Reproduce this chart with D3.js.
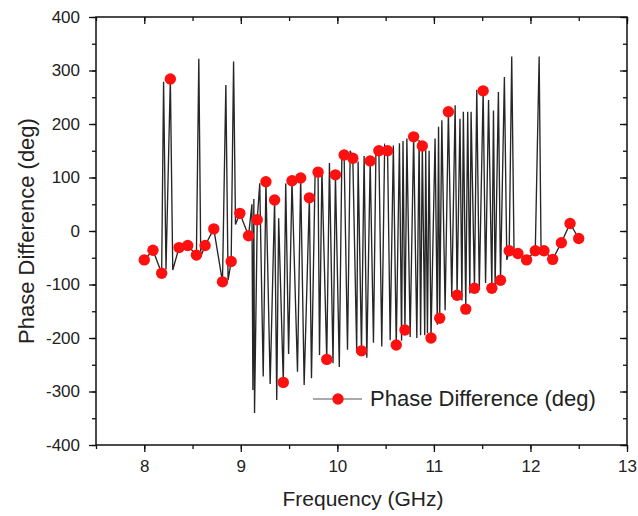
<!DOCTYPE html>
<html>
<head>
<meta charset="utf-8">
<script src="https://cdn.jsdelivr.net/npm/d3@7"></script>
<style>
  body { margin: 0; background: #fff; }
  svg text { font-family: "Liberation Sans", Arial, sans-serif; fill: #222; }
</style>
</head>
<body>
<svg id="chart" width="638" height="516"></svg>
<script>
// markers (every Nth sample of the measurement)
var markerFreq = [8.00, 8.09, 8.18, 8.27, 8.36, 8.45, 8.54, 8.63, 8.72, 8.81,
  8.90, 8.99, 9.08, 9.17, 9.26, 9.35, 9.44, 9.53, 9.62, 9.71,
  9.80, 9.89, 9.98, 10.07, 10.16, 10.25, 10.34, 10.43, 10.52, 10.61,
  10.70, 10.79, 10.88, 10.97, 11.06, 11.15, 11.24, 11.33, 11.42, 11.51,
  11.60, 11.69, 11.78, 11.87, 11.96, 12.05, 12.14, 12.23, 12.32, 12.41, 12.50];
var markerPhase = [-54, -36, -79, 284, -31, -27, -45, -27, 4, -95,
  -57, 33, -9, 21, 92, 58, -283, 94, 99, 62,
  110, -240, 105, 142, 136, -224, 131, 150, 150, -213,
  -185, 176, 159, -200, -163, 223, -120, -146, -107, 262,
  -107, -92, -37, -42, -54, -37, -37, -53, -22, 14, -14];

// the other samples of the line (peaks and troughs between markers)
var lineFreq = [8.20, 8.225, 8.295, 8.565, 8.585, 8.845, 8.868, 8.925, 8.945,
  9.115, 9.125, 9.135, 9.142, 9.196, 9.232, 9.304, 9.372, 9.392, 9.465, 9.495,
  9.587, 9.656, 9.732, 9.77, 9.815, 9.84, 9.918, 9.955, 10.02, 10.047,
  10.105, 10.133, 10.20, 10.215, 10.277, 10.305, 10.374, 10.40, 10.46, 10.49,
  10.547, 10.58, 10.643, 10.665, 10.68, 10.72, 10.754, 10.823, 10.847, 10.862,
  10.905, 10.915, 10.933, 10.95, 11.012, 11.035, 11.048, 11.082, 11.116, 11.185,
  11.22, 11.27, 11.29, 11.305, 11.35, 11.372, 11.385, 11.444, 11.47, 11.535,
  11.566, 11.617, 11.634, 11.668, 11.73, 11.755, 11.806, 11.83, 12.09, 12.11];
var linePhase = [279, -72, -73, 322, -48, 273, -92, 317, 12,
  50, -297, 60, -340, 89, -272, -286, -316, 24, 89, -230,
  -263, -288, -275, 114, -232, 114, 127, -247, -254, 146,
  -222, 150, -222, 130, 140, -237, -209, 155, -216, 160,
  -204, 160, 164, -205, 168, 173, -198, -200, 170, -195,
  -195, 151, -191, 150, 173, -175, 195, 207, -148, -123,
  235, 210, -130, 223, 223, -117, 223, 264, -110, -97,
  245, 225, -104, 260, 288, -54, 326, -40, 326, -40];

var xTicks = [8, 9, 10, 11, 12, 13];
var yTicks = [-400, -300, -200, -100, 0, 100, 200, 300, 400];
var seriesName = "Phase Difference (deg)";

var svg = d3.select("#chart");
var m = {left: 96, right: 627, top: 17, bottom: 445};

var x = d3.scaleLinear().domain([7.5, 13]).range([m.left, m.right]);
var y = d3.scaleLinear().domain([-400, 400]).range([m.bottom, m.top]);

var xMinor = d3.range(7.5, 13.01, 0.5);
var yMinor = d3.range(-400, 401, 50);

// all samples in order
var pts = [];
markerFreq.forEach(function(f, i) { pts.push([f, markerPhase[i]]); });
lineFreq.forEach(function(f, i) { pts.push([f, linePhase[i]]); });
pts.sort(function(a, b) { return a[0] - b[0]; });

var line = d3.line()
  .x(function(d) { return x(d[0]); })
  .y(function(d) { return y(d[1]); });

svg.append("path")
  .datum(pts)
  .attr("d", line)
  .attr("fill", "none")
  .attr("stroke", "#262626")
  .attr("stroke-width", 1.35);

svg.selectAll("circle.mk")
  .data(markerFreq)
  .enter()
  .append("circle")
  .attr("class", "mk")
  .attr("cx", function(d) { return x(d); })
  .attr("cy", function(d, i) { return y(markerPhase[i]); })
  .attr("r", 5.7)
  .attr("fill", "#ff1010");

// axes: minor ticks first, then majors with labels
function minor(axisFn, scale, vals, size) {
  return axisFn(scale).tickValues(vals).tickSize(size).tickFormat("");
}

var gB = svg.append("g").attr("transform", "translate(0," + m.bottom + ")");
gB.call(minor(d3.axisBottom, x, xMinor, 4));
gB.append("g").call(d3.axisBottom(x).tickValues(xTicks).tickSize(7).tickPadding(8).tickFormat(d3.format("d")));

var gL = svg.append("g").attr("transform", "translate(" + m.left + ",0)");
gL.call(minor(d3.axisLeft, y, yMinor, 4));
gL.append("g").call(d3.axisLeft(y).tickValues(yTicks).tickSize(7).tickPadding(9).tickFormat(function(d) { return d < 0 ? "-" + Math.abs(d) : d; }));

var gT = svg.append("g").attr("transform", "translate(0," + m.top + ")");
gT.call(minor(d3.axisTop, x, xMinor, -4));
gT.append("g").call(minor(d3.axisTop, x, xTicks, -7));

var gR = svg.append("g").attr("transform", "translate(" + m.right + ",0)");
gR.call(minor(d3.axisRight, y, yMinor, -4));
gR.append("g").call(minor(d3.axisRight, y, yTicks, -7));

svg.selectAll(".domain").remove();
svg.selectAll(".tick line").attr("stroke", "#111").attr("stroke-width", 1.3);
svg.selectAll(".tick text").attr("font-size", 17).style("fill", "#222");

svg.append("rect")
  .attr("x", m.left).attr("y", m.top)
  .attr("width", m.right - m.left).attr("height", m.bottom - m.top)
  .attr("fill", "none").attr("stroke", "#111").attr("stroke-width", 1.5);

// axis titles
svg.append("text")
  .attr("x", 363).attr("y", 506)
  .attr("text-anchor", "middle").attr("font-size", 21)
  .text("Frequency (GHz)");

svg.append("text")
  .attr("transform", "translate(34," + ((m.top + m.bottom) / 2) + ") rotate(-90)")
  .attr("text-anchor", "middle").attr("font-size", 22)
  .text("Phase Difference (deg)");

// legend
var lg = svg.append("g");
lg.append("line")
  .attr("x1", 313).attr("x2", 362).attr("y1", 399).attr("y2", 399)
  .attr("stroke", "#555").attr("stroke-width", 1.2);
lg.append("circle").attr("cx", 338).attr("cy", 399).attr("r", 5.7).attr("fill", "#ff1010");
lg.append("text").attr("x", 370).attr("y", 406).attr("font-size", 22).text(seriesName);
</script>
</body>
</html>
